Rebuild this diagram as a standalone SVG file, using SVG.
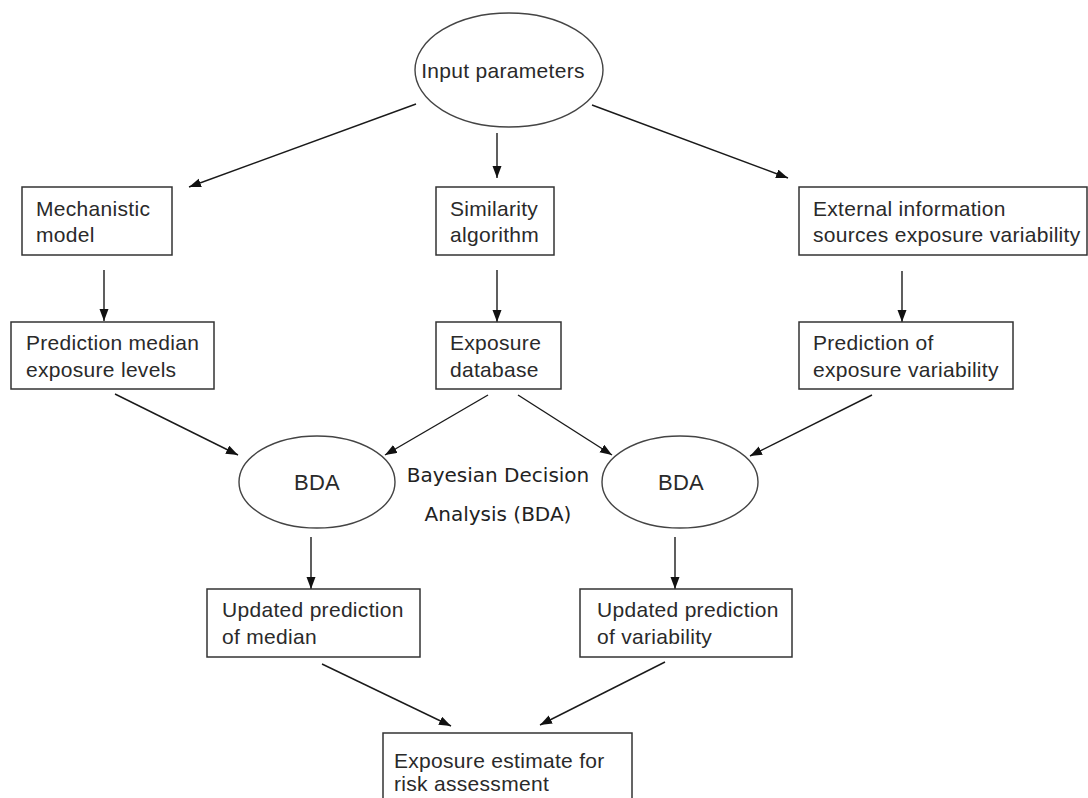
<svg xmlns="http://www.w3.org/2000/svg" width="1088" height="798" viewBox="0 0 1088 798">
<defs>
<marker id="ah" markerUnits="userSpaceOnUse" markerWidth="12" markerHeight="10" refX="12" refY="4.5" orient="auto">
<path d="M0,0 L12,4.5 L0,9 z" fill="#111"/>
</marker>
<style>
.box{fill:#fff;stroke:#333;stroke-width:1.5}
.ell{fill:#fff;stroke:#444;stroke-width:1.4}
.t{font-family:"Liberation Sans",Arial,sans-serif;font-size:21px;fill:#2a2a2a;letter-spacing:0.3px}
.c{text-anchor:middle}
.lbl{font-family:"DejaVu Sans",sans-serif;font-size:20px;fill:#222;text-anchor:middle}
.edge{stroke:#1a1a1a;stroke-width:1.4;fill:none;marker-end:url(#ah)}
</style>
</defs>
<rect width="1088" height="798" fill="#fff"/>
<g id="connectors">
<line class="edge" x1="416" y1="104" x2="189" y2="187"/>
<line class="edge" x1="497" y1="133" x2="497" y2="178"/>
<line class="edge" x1="592" y1="105" x2="788" y2="178"/>
<line class="edge" x1="104" y1="270" x2="104" y2="321"/>
<line class="edge" x1="497" y1="270" x2="497" y2="322"/>
<line class="edge" x1="902" y1="271" x2="902" y2="322"/>
<line class="edge" x1="115" y1="394" x2="238" y2="455"/>
<line class="edge" x1="488" y1="395" x2="385" y2="455"/>
<line class="edge" x1="518" y1="395" x2="612" y2="455"/>
<line class="edge" x1="872" y1="395" x2="750" y2="456"/>
<line class="edge" x1="311" y1="537" x2="311" y2="589"/>
<line class="edge" x1="675" y1="537" x2="675" y2="589"/>
<line class="edge" x1="322" y1="664" x2="451" y2="726"/>
<line class="edge" x1="665" y1="662" x2="540" y2="725"/>
</g>
<g id="input">
<ellipse class="ell" cx="509" cy="70" rx="94" ry="57"/>
<text class="t c" x="503" y="78">Input parameters</text>
</g>
<g id="mechanistic">
<rect class="box" x="22" y="187" width="150" height="68"/>
<text class="t" x="36" y="216">Mechanistic</text>
<text class="t" x="36" y="242">model</text>
</g>
<g id="similarity">
<rect class="box" x="436" y="187" width="118" height="68"/>
<text class="t" x="450" y="216">Similarity</text>
<text class="t" x="450" y="242">algorithm</text>
</g>
<g id="external">
<rect class="box" x="799" y="187" width="288" height="68"/>
<text class="t" x="813" y="216">External information</text>
<text class="t" x="813" y="242">sources exposure variability</text>
</g>
<g id="pred-median">
<rect class="box" x="11" y="322" width="203" height="67"/>
<text class="t" x="26" y="350">Prediction median</text>
<text class="t" x="26" y="377">exposure levels</text>
</g>
<g id="exposure-db">
<rect class="box" x="436" y="322" width="125" height="67"/>
<text class="t" x="450" y="350">Exposure</text>
<text class="t" x="450" y="377">database</text>
</g>
<g id="pred-var">
<rect class="box" x="799" y="322" width="214" height="67"/>
<text class="t" x="813" y="350">Prediction of</text>
<text class="t" x="813" y="377">exposure variability</text>
</g>
<g id="bda-left">
<ellipse class="ell" cx="317" cy="482" rx="78" ry="46"/>
<text class="t c" x="317" y="490" style="font-size:22px">BDA</text>
</g>
<g id="bda-right">
<ellipse class="ell" cx="680" cy="482" rx="78" ry="46"/>
<text class="t c" x="681" y="490" style="font-size:22px">BDA</text>
</g>
<g id="bda-label">
<text class="lbl" x="498" y="482">Bayesian Decision</text>
<text class="lbl" x="498" y="521">Analysis (BDA)</text>
</g>
<g id="upd-median">
<rect class="box" x="207" y="589" width="213" height="68"/>
<text class="t" x="222" y="617">Updated prediction</text>
<text class="t" x="222" y="644">of median</text>
</g>
<g id="upd-var">
<rect class="box" x="580" y="589" width="212" height="68"/>
<text class="t" x="597" y="617">Updated prediction</text>
<text class="t" x="597" y="644">of variability</text>
</g>
<g id="estimate">
<rect class="box" x="383" y="733" width="249" height="90"/>
<text class="t" x="394" y="768">Exposure estimate for</text>
<text class="t" x="394" y="791">risk assessment</text>
</g>
</svg>
